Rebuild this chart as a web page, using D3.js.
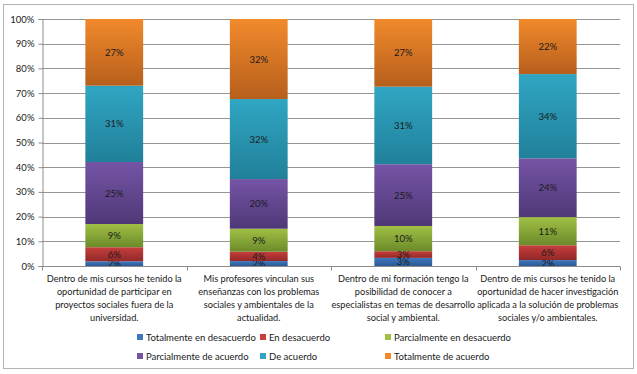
<!DOCTYPE html>
<html>
<head>
<meta charset="utf-8">
<script src="https://cdn.jsdelivr.net/npm/d3@7"></script>
<style>
  body { margin: 0; background: #fff; }
  text { font-family: Lato, "Liberation Sans", sans-serif; fill: #1a1a1a; }
</style>
</head>
<body>
<div id="grafico"></div>
<script>
// Datos del gráfico
const categorias = [
  'Dentro de mis cursos he tenido la|oportunidad de participar en|proyectos sociales fuera de la|universidad.',
  'Mis profesores vinculan sus|enseñanzas con los problemas|sociales y ambientales de la|actualidad.',
  'Dentro de mi formación tengo la|posibilidad de conocer a|especialistas en temas de desarrollo|social y ambiental.',
  'Dentro de mis cursos he tenido la|oportunidad de hacer investigación|aplicada a la solución de problemas|sociales y/o ambientales.'
];
const series = [
  'Totalmente en desacuerdo',
  'En desacuerdo',
  'Parcialmente en desacuerdo',
  'Parcialmente de acuerdo',
  'De acuerdo',
  'Totalmente de acuerdo'
];
const totalmenteDesacuerdo = [1.9, 2.0, 3.3, 2.4];
const enDesacuerdo = [5.7, 3.8, 2.7, 6.0];
const parcialDesacuerdo = [9.4, 9.3, 10.2, 11.4];
const parcialAcuerdo = [25.1, 20.1, 25.0, 23.8];
const deAcuerdo = [30.9, 32.4, 31.4, 34.1];
const totalmenteAcuerdo = [27.0, 32.4, 27.4, 22.3];
const ticksY = [0, 10, 20, 30, 40, 50, 60, 70, 80, 90, 100];

// colores: [arriba, abajo] para el degradado
const colores = [
  ['#3f78c0', '#2b5a94'],
  ['#c63f3d', '#922828'],
  ['#a0c044', '#6c8a2a'],
  ['#7554a6', '#4f3877'],
  ['#30a6c3', '#21809a'],
  ['#f28a2c', '#b65f1c']
];

const largura = 637, altura = 374;
const margem = { top: 19, right: 17, bottom: 108, left: 42 };
const w = largura - margem.left - margem.right;
const h = altura - margem.top - margem.bottom;

const svg = d3.select('#grafico').append('svg')
  .attr('width', largura).attr('height', altura);

// degradados
const defs = svg.append('defs');
colores.forEach((c, i) => {
  const g = defs.append('linearGradient').attr('id', 'grad' + i)
    .attr('x1', 0).attr('y1', 0).attr('x2', 0).attr('y2', 1);
  g.append('stop').attr('offset', '0%').attr('stop-color', c[0]);
  g.append('stop').attr('offset', '100%').attr('stop-color', c[1]);
});

// borde del gráfico
svg.append('rect').attr('x', 3.5).attr('y', 4.5).attr('width', 630).attr('height', 364)
  .attr('fill', 'none').attr('stroke', '#b3b3b3');

const g = svg.append('g').attr('transform', `translate(${margem.left},${margem.top})`);

const x = d3.scaleBand().domain(d3.range(categorias.length)).range([0, w]);
const y = d3.scaleLinear().domain([0, 100]).range([h, 0]);

// líneas de la cuadrícula
g.selectAll('.grid').data(ticksY.slice(1)).enter().append('line')
  .attr('x1', 0).attr('x2', w)
  .attr('y1', d => Math.round(y(d)) + 0.5).attr('y2', d => Math.round(y(d)) + 0.5)
  .attr('stroke', '#959595').attr('stroke-width', 1);

// datos apilados
const filas = categorias.map((c, i) => ({
  i,
  v: [totalmenteDesacuerdo[i], enDesacuerdo[i], parcialDesacuerdo[i], parcialAcuerdo[i], deAcuerdo[i], totalmenteAcuerdo[i]]
}));
const pila = d3.stack().keys(d3.range(series.length)).value((d, k) => d.v[k])(filas);

const anchoBarra = x.bandwidth() * 0.4;
const capas = g.selectAll('.capa').data(pila).enter().append('g')
  .attr('fill', (d, i) => `url(#grad${i})`);

capas.selectAll('rect').data(d => d).enter().append('rect')
  .attr('x', d => x(d.data.i) + (x.bandwidth() - anchoBarra) / 2)
  .attr('width', anchoBarra)
  .attr('y', d => y(d[1]))
  .attr('height', d => y(d[0]) - y(d[1]));

// etiquetas de valores
capas.selectAll('text').data(d => d).enter().append('text')
  .attr('x', d => x(d.data.i) + x.bandwidth() / 2)
  .attr('y', d => (y(d[0]) + y(d[1])) / 2 + 3.5)
  .attr('text-anchor', 'middle')
  .style('font-size', '9.5px')
  .text(d => Math.round(d[1] - d[0]) + '%');

// eje Y
const ejeY = g.append('g').attr('transform', 'translate(0.5,0)')
  .call(d3.axisLeft(y).tickValues(ticksY).tickSize(4).tickPadding(4).tickFormat(d => d + '%'));
ejeY.select('.domain').attr('stroke', '#8c8c8c');
ejeY.selectAll('.tick line').attr('stroke', '#8c8c8c');
ejeY.selectAll('text').style('font-size', '9.5px').attr('fill', '#1a1a1a');

// eje X
const ejeX = g.append('g').attr('transform', `translate(0,${h + 0.5})`);
ejeX.append('line').attr('x1', 0).attr('x2', w).attr('stroke', '#8c8c8c');
ejeX.selectAll('.tk').data(d3.range(categorias.length + 1)).enter().append('line')
  .attr('x1', d => Math.round(d * x.step()) + 0.5).attr('x2', d => Math.round(d * x.step()) + 0.5)
  .attr('y1', 0).attr('y2', 4).attr('stroke', '#8c8c8c');

ejeX.selectAll('.cat').data(categorias).enter().append('text')
  .attr('text-anchor', 'middle')
  .attr('transform', (d, i) => `translate(${x(i) + x.bandwidth() / 2},0)`)
  .style('font-size', '9.2px')
  .each(function (d) {
    d.split('|').forEach((linea, k) => {
      d3.select(this).append('tspan').attr('x', 0).attr('y', 15.5 + k * 13).text(linea);
    });
  });

// leyenda
const posLeyenda = [[137, 337], [260, 337], [385, 337], [137, 356], [260, 356], [385, 356]];
const leyenda = svg.selectAll('.ley').data(series).enter().append('g')
  .attr('transform', (d, i) => `translate(${posLeyenda[i][0]},${posLeyenda[i][1]})`);
leyenda.append('rect').attr('x', 0).attr('y', -3).attr('width', 6).attr('height', 6)
  .attr('fill', (d, i) => colores[i][0]);
leyenda.append('text').attr('x', 9).attr('y', 3.5)
  .style('font-size', '9.5px').text(d => d);
</script>
</body>
</html>
